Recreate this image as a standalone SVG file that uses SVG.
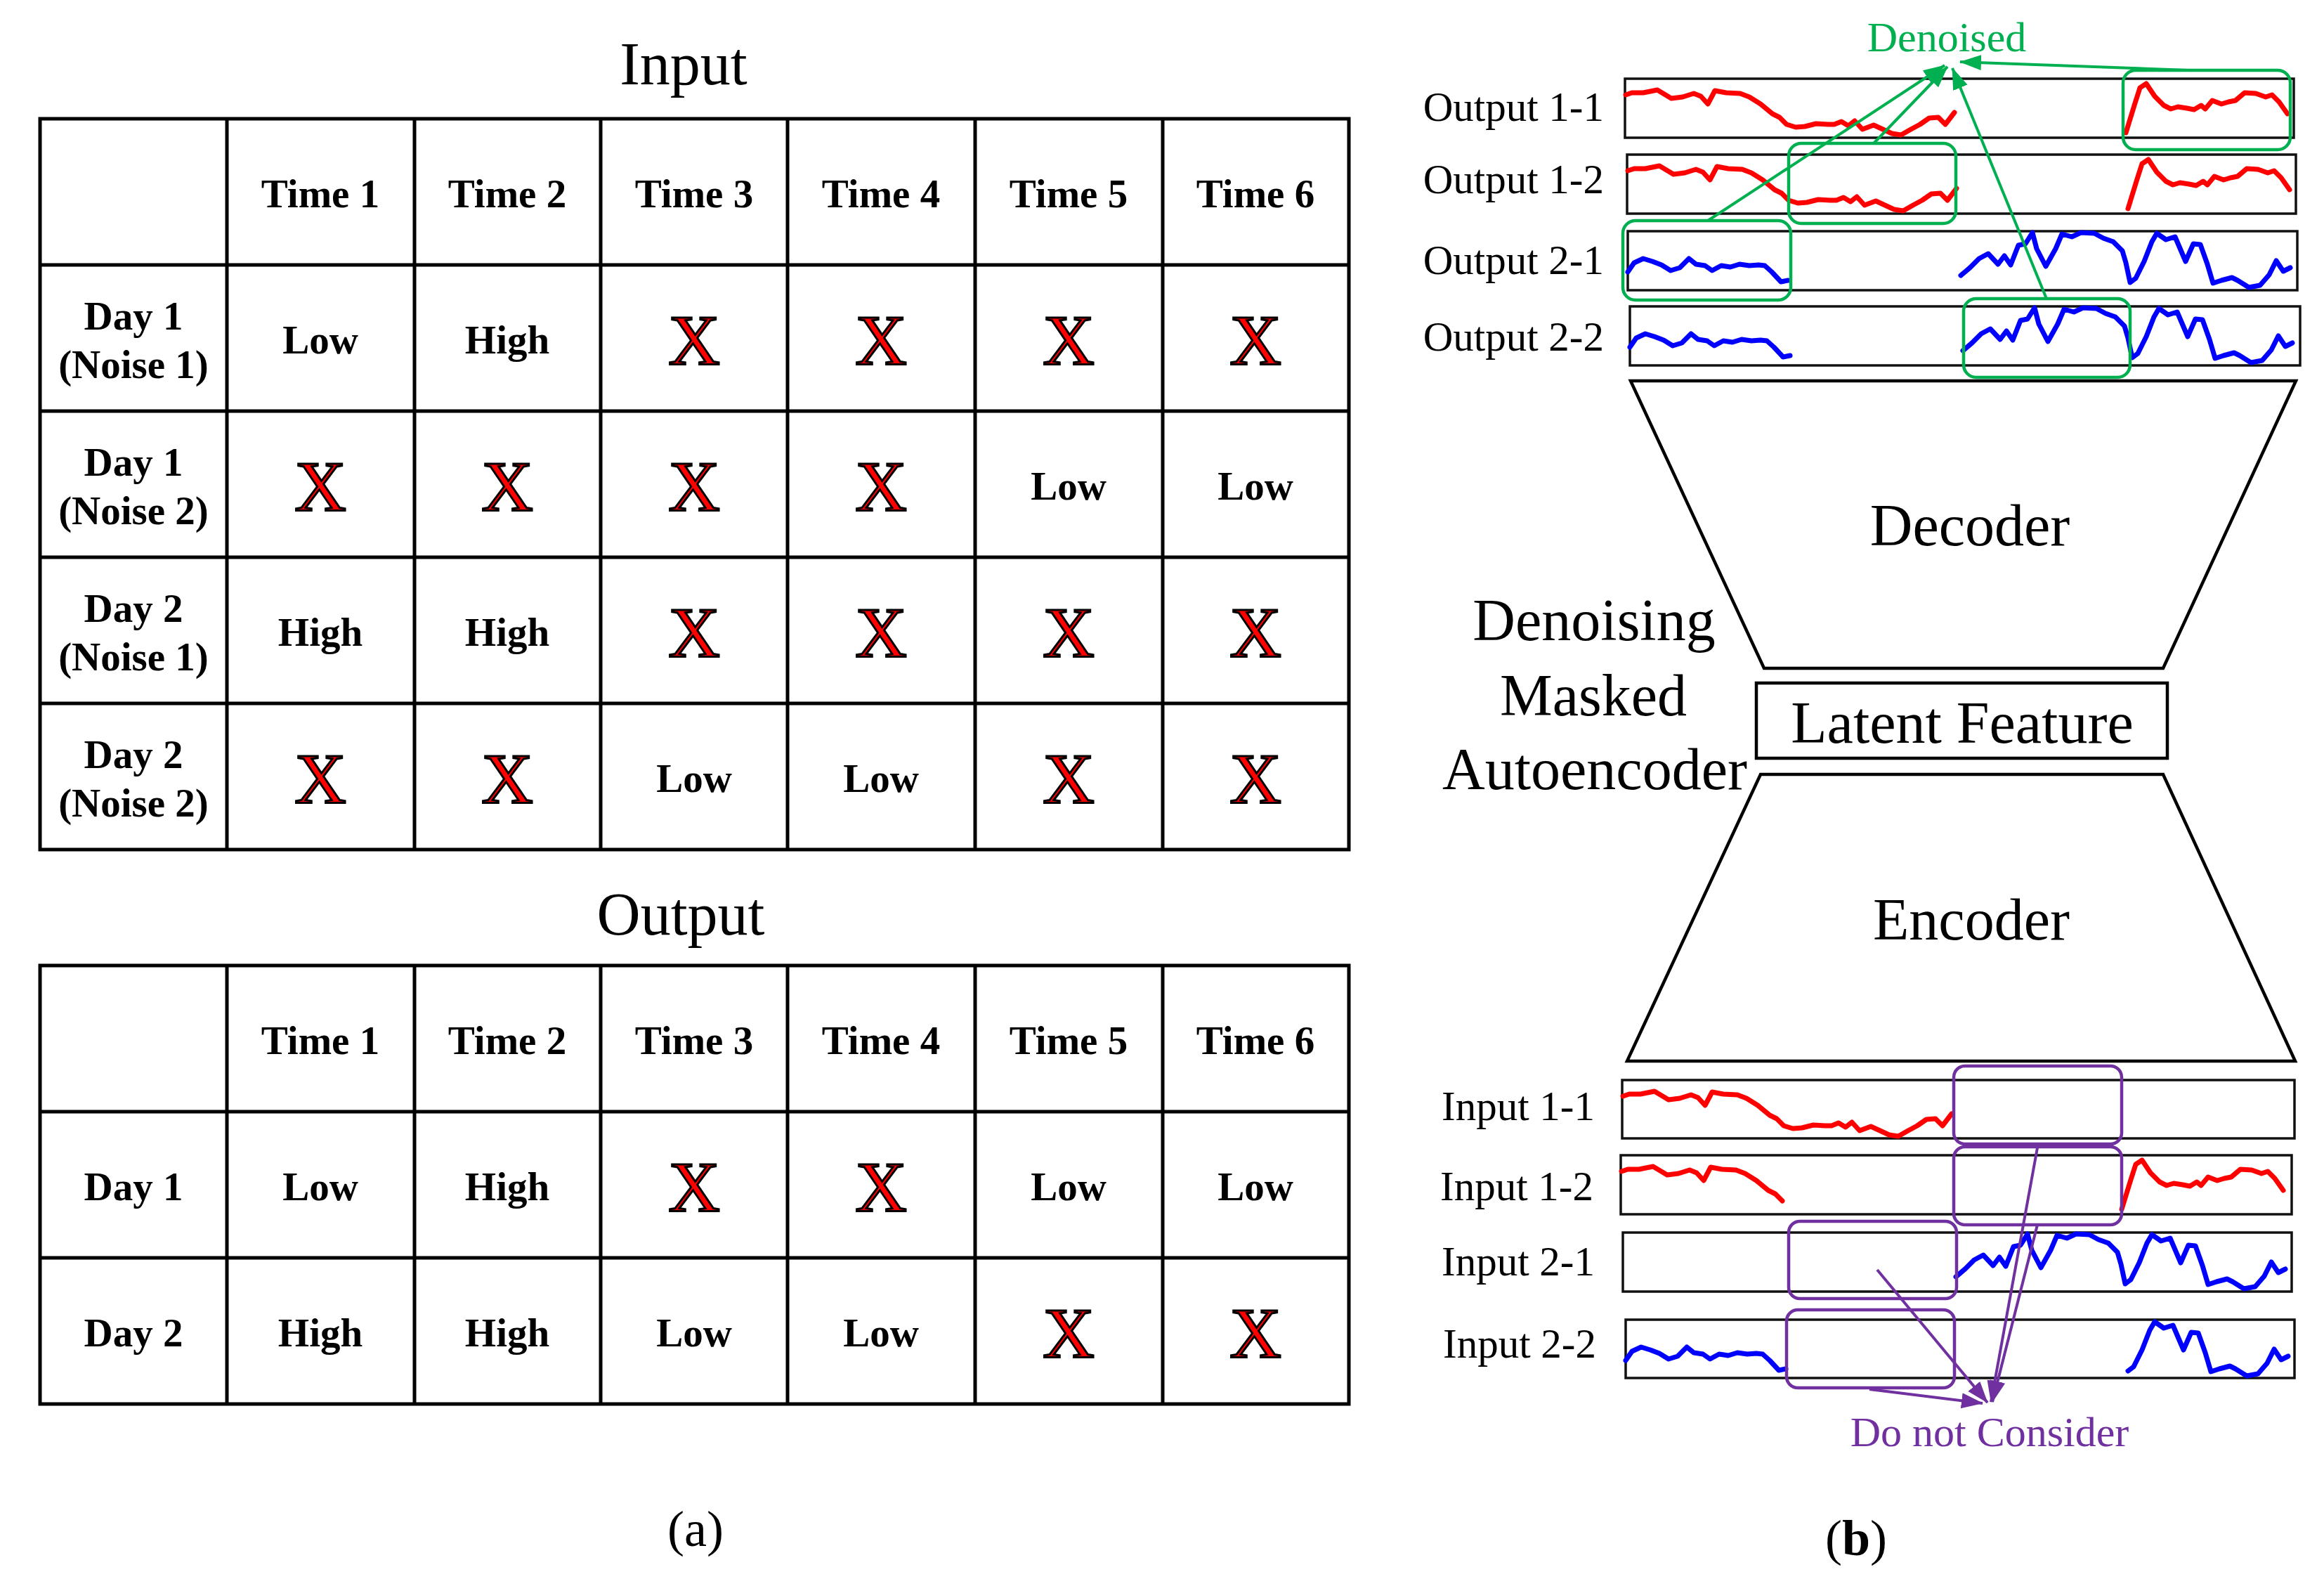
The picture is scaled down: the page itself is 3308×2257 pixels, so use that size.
<svg xmlns="http://www.w3.org/2000/svg" xmlns:xlink="http://www.w3.org/1999/xlink" width="3308" height="2257" viewBox="0 0 3308 2257">
<style>
text{font-family:"Liberation Serif","Times New Roman",serif;fill:#000}
.ti{font-size:86px;text-anchor:middle}
.tb{font-size:57px;font-weight:bold;text-anchor:middle}
.xm{font-size:102px;text-anchor:middle;fill:#FF0000;stroke:#000;stroke-width:3}
.grid{fill:none;stroke:#000;stroke-width:5}
.lab{font-size:59px;text-anchor:end}
.big{font-size:84px;text-anchor:middle}
.cap{font-size:72px;text-anchor:middle}
.sbox{fill:none;stroke:#111;stroke-width:3.5}
.red{fill:none;stroke:#FF0000;stroke-width:7;stroke-linejoin:round;stroke-linecap:round}
.blue{fill:none;stroke:#0000FF;stroke-width:7;stroke-linejoin:round;stroke-linecap:round}
.gbox{fill:none;stroke:#00B050;stroke-width:4.5}
.pbox{fill:none;stroke:#7030A0;stroke-width:4.5}
.gl{stroke:#00B050;stroke-width:4;fill:none;marker-end:url(#mg)}
.pl{stroke:#7030A0;stroke-width:4;fill:none;marker-end:url(#mp)}
.shape{fill:none;stroke:#000;stroke-width:4.5}
</style>
<defs>
<marker id="mg" markerUnits="userSpaceOnUse" markerWidth="32" markerHeight="24" viewBox="0 0 32 24" refX="30" refY="12" orient="auto"><path d="M0,1 L31,12 L0,23 z" fill="#00B050"/></marker>
<marker id="mp" markerUnits="userSpaceOnUse" markerWidth="32" markerHeight="24" viewBox="0 0 32 24" refX="30" refY="12" orient="auto"><path d="M0,1 L31,12 L0,23 z" fill="#7030A0"/></marker>
<polyline id="redL" class="red" points="1,23 10,20 26,20 46,16 66,28 82,26 98,21 108,25 118,36 128,17 144,20 164,21 177,26 193,36 210,50 220,55 230,65 243,69 256,68 272,64 289,65 298,65 308,61 318,67 327,60 338,72 354,66 367,72 380,78 393,80 407,72 420,65 433,56 446,55 456,65 469,48"/>
<polyline id="redLs" class="red" points="1,23 10,20 26,20 46,16 66,28 82,26 98,21 108,25 118,36 128,17 144,20 164,21 177,26 193,36 210,50 220,55 230,65"/>
<polyline id="redR" class="red" points="713,77 725,38 733,13 742,7 754,25 767,38 777,43 787,40 800,42 810,44 820,38 826,43 836,31 849,36 859,33 869,31 882,20 898,21 912,26 921,23 931,33 943,50"/>
<polyline id="blueL" class="blue" points="0,58 9,45 22,39 35,43 48,48 61,56 74,52 87,39 97,47 110,49 120,56 133,49 146,51 159,47 173,49 186,48 195,49 205,58 218,72 228,70"/>
<polyline id="blueR" class="blue" points="474,63 487,52 500,39 513,32 527,47 536,35 545,48 556,20 566,18 576,2 582,25 595,50 609,25 618,4 632,8 645,2 664,3 677,10 691,15 704,28 709,45 715,73 723,67 735,43 746,15 753,3 766,12 779,8 794,43 805,18 815,19 825,47 833,74 845,70 860,66 868,70 884,80 900,77 913,62 923,42 933,57 943,52"/>
<polyline id="blueRs" class="blue" points="715,73 723,67 735,43 746,15 753,3 766,12 779,8 794,43 805,18 815,19 825,47 833,74 845,70 860,66 868,70 884,80 900,77 913,62 923,42 933,57 943,52"/>
</defs>
<rect width="3308" height="2257" fill="#fff"/>

<g id="input-table">
<text class="ti" x="973" y="120">Input</text>
<rect class="grid" x="57" y="169" width="1863" height="1040"/>
<path class="grid" d="M323,169V1209M590,169V1209M855,169V1209M1121,169V1209M1388,169V1209M1655,169V1209M57,377H1920M57,585H1920M57,793H1920M57,1001H1920"/>
<text class="tb" x="456" y="295">Time 1</text>
<text class="tb" x="722" y="295">Time 2</text>
<text class="tb" x="988" y="295">Time 3</text>
<text class="tb" x="1254" y="295">Time 4</text>
<text class="tb" x="1521" y="295">Time 5</text>
<text class="tb" x="1787" y="295">Time 6</text>
<text class="tb" x="190" y="469">Day 1</text><text class="tb" x="190" y="538">(Noise 1)</text>
<text class="tb" x="190" y="677">Day 1</text><text class="tb" x="190" y="746">(Noise 2)</text>
<text class="tb" x="190" y="885">Day 2</text><text class="tb" x="190" y="954">(Noise 1)</text>
<text class="tb" x="190" y="1093">Day 2</text><text class="tb" x="190" y="1162">(Noise 2)</text>
<text class="tb" x="456" y="503">Low</text>
<text class="tb" x="722" y="503">High</text>
<text class="xm" x="988" y="519">X</text>
<text class="xm" x="1254" y="519">X</text>
<text class="xm" x="1521" y="519">X</text>
<text class="xm" x="1787" y="519">X</text>
<text class="xm" x="456" y="727">X</text>
<text class="xm" x="722" y="727">X</text>
<text class="xm" x="988" y="727">X</text>
<text class="xm" x="1254" y="727">X</text>
<text class="tb" x="1521" y="711">Low</text>
<text class="tb" x="1787" y="711">Low</text>
<text class="tb" x="456" y="919">High</text>
<text class="tb" x="722" y="919">High</text>
<text class="xm" x="988" y="935">X</text>
<text class="xm" x="1254" y="935">X</text>
<text class="xm" x="1521" y="935">X</text>
<text class="xm" x="1787" y="935">X</text>
<text class="xm" x="456" y="1143">X</text>
<text class="xm" x="722" y="1143">X</text>
<text class="tb" x="988" y="1127">Low</text>
<text class="tb" x="1254" y="1127">Low</text>
<text class="xm" x="1521" y="1143">X</text>
<text class="xm" x="1787" y="1143">X</text>
</g>

<g id="output-table">
<text class="ti" x="969" y="1330">Output</text>
<rect class="grid" x="57" y="1374" width="1863" height="624"/>
<path class="grid" d="M323,1374V1998M590,1374V1998M855,1374V1998M1121,1374V1998M1388,1374V1998M1655,1374V1998M57,1582H1920M57,1790H1920"/>
<text class="tb" x="456" y="1500">Time 1</text>
<text class="tb" x="722" y="1500">Time 2</text>
<text class="tb" x="988" y="1500">Time 3</text>
<text class="tb" x="1254" y="1500">Time 4</text>
<text class="tb" x="1521" y="1500">Time 5</text>
<text class="tb" x="1787" y="1500">Time 6</text>
<text class="tb" x="190" y="1708">Day 1</text>
<text class="tb" x="190" y="1916">Day 2</text>
<text class="tb" x="456" y="1708">Low</text>
<text class="tb" x="722" y="1708">High</text>
<text class="xm" x="988" y="1724">X</text>
<text class="xm" x="1254" y="1724">X</text>
<text class="tb" x="1521" y="1708">Low</text>
<text class="tb" x="1787" y="1708">Low</text>
<text class="tb" x="456" y="1916">High</text>
<text class="tb" x="722" y="1916">High</text>
<text class="tb" x="988" y="1916">Low</text>
<text class="tb" x="1254" y="1916">Low</text>
<text class="xm" x="1521" y="1932">X</text>
<text class="xm" x="1787" y="1932">X</text>
<text class="cap" x="990" y="2200">(a)</text>
</g>

<g id="output-signals">
<text class="lab" x="2283" y="172">Output 1-1</text>
<text class="lab" x="2283" y="275">Output 1-2</text>
<text class="lab" x="2283" y="390">Output 2-1</text>
<text class="lab" x="2283" y="499">Output 2-2</text>
<rect class="sbox" x="2313" y="112" width="952" height="84"/>
<rect class="sbox" x="2316" y="220" width="952" height="84"/>
<rect class="sbox" x="2317" y="329" width="953" height="84"/>
<rect class="sbox" x="2320" y="436" width="954" height="84"/>
<use href="#redL" x="2313" y="112"/><use href="#redR" x="2313" y="112"/>
<use href="#redL" x="2316" y="220"/><use href="#redR" x="2316" y="220"/>
<use href="#blueL" x="2317" y="329"/><use href="#blueR" x="2317" y="329"/>
<use href="#blueL" x="2320" y="436"/><use href="#blueR" x="2320" y="436"/>
</g>

<g id="denoised-boxes">
<rect class="gbox" x="3022" y="100" width="238" height="113" rx="18"/>
<rect class="gbox" x="2546" y="204" width="238" height="114" rx="18"/>
<rect class="gbox" x="2310" y="314" width="239" height="113" rx="18"/>
<rect class="gbox" x="2795" y="425" width="237" height="112" rx="18"/>
<text x="2771" y="73" font-size="60" text-anchor="middle" style="fill:#00B050">Denoised</text>
</g>

<g id="decoder">
<polygon class="shape" points="2321,542 3268,542 3079,951 2511,951"/>
<text class="big" x="2804" y="776">Decoder</text>
</g>

<g id="latent-feature">
<rect class="shape" x="2500" y="972" width="585" height="107"/>
<text class="big" x="2793" y="1057">Latent Feature</text>
</g>

<g id="encoder">
<polygon class="shape" points="2506,1102 3079,1102 3267,1510 2316,1510"/>
<text class="big" x="2806" y="1337">Encoder</text>
</g>

<g id="model-label">
<text class="big" x="2269" y="911">Denoising</text>
<text class="big" x="2268" y="1018">Masked</text>
<text class="big" x="2270" y="1123">Autoencoder</text>
</g>

<g id="input-signals">
<text class="lab" x="2270" y="1594">Input 1-1</text>
<text class="lab" x="2268" y="1708">Input 1-2</text>
<text class="lab" x="2270" y="1815">Input 2-1</text>
<text class="lab" x="2272" y="1932">Input 2-2</text>
<rect class="sbox" x="2309" y="1537" width="957" height="83"/>
<rect class="sbox" x="2307" y="1644" width="955" height="84"/>
<rect class="sbox" x="2310" y="1754" width="952" height="84"/>
<rect class="sbox" x="2314" y="1878" width="952" height="83"/>
<use href="#redL" x="2309" y="1537"/>
<use href="#redLs" x="2307" y="1644"/><use href="#redR" x="2307" y="1644"/>
<use href="#blueR" x="2310" y="1754"/>
<use href="#blueL" x="2314" y="1878"/><use href="#blueRs" x="2314" y="1878"/>
</g>

<g id="masked-boxes">
<rect class="pbox" x="2781" y="1517" width="239" height="111" rx="16"/>
<rect class="pbox" x="2781" y="1632" width="239" height="111" rx="16"/>
<rect class="pbox" x="2546" y="1738" width="239" height="110" rx="16"/>
<rect class="pbox" x="2543" y="1864" width="239" height="111" rx="16"/>
<text x="2832" y="2058" font-size="60" text-anchor="middle" style="fill:#7030A0">Do not Consider</text>
</g>

<g id="connectors">
<line class="gl" x1="3115" y1="100" x2="2790" y2="88"/>
<line class="gl" x1="2431" y1="314" x2="2768" y2="93"/>
<line class="gl" x1="2667" y1="204" x2="2772" y2="95"/>
<line class="gl" x1="2913" y1="425" x2="2779" y2="97"/>
<line class="pl" x1="2901" y1="1628" x2="2834" y2="1995"/>
<line class="pl" x1="2900" y1="1743" x2="2836" y2="1995"/>
<line class="pl" x1="2672" y1="1807" x2="2829" y2="1996"/>
<line class="pl" x1="2661" y1="1977" x2="2822" y2="1997"/>
</g>

<g id="caption-b">
<text class="cap" x="2642" y="2213">(<tspan font-weight="bold">b</tspan>)</text>
</g>
</svg>
